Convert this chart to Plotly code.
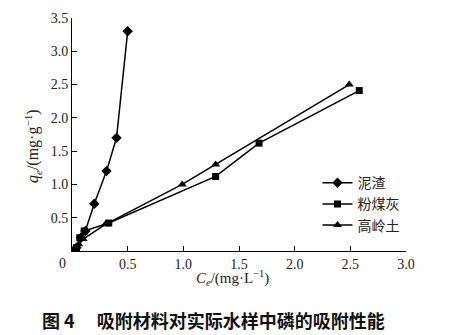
import plotly.graph_objects as go

# Data
names = ["泥渣", "粉煤灰", "高岭土"]
x_nizha = [0.04, 0.08, 0.12, 0.20, 0.31, 0.40, 0.50]
y_nizha = [0.05, 0.20, 0.30, 0.71, 1.20, 1.70, 3.30]
x_fmh = [0.04, 0.07, 0.11, 0.33, 1.29, 1.68, 2.58]
y_fmh = [0.05, 0.20, 0.30, 0.42, 1.12, 1.62, 2.41]
x_gtl = [0.02, 0.06, 0.10, 0.30, 0.99, 1.29, 2.49]
y_gtl = [0.03, 0.10, 0.18, 0.40, 1.00, 1.30, 2.50]
x_ticks = [0.5, 1.0, 1.5, 2.0, 2.5, 3.0]
y_ticks = [0.5, 1.0, 1.5, 2.0, 2.5, 3.0, 3.5]

serif = "Liberation Serif, Times New Roman, serif"
cjk = "Noto Sans CJK SC, sans-serif"

fig = go.Figure()
series = [
    (x_nizha, y_nizha, "diamond", 8),
    (x_fmh, y_fmh, "square", 7),
    (x_gtl, y_gtl, "triangle-up", 8),
]
for name, (xs, ys, sym, sz) in zip(names, series):
    fig.add_trace(go.Scatter(
        x=xs, y=ys, name=name, mode="lines+markers",
        line=dict(color="black", width=1.5),
        marker=dict(symbol=sym, size=sz, color="black"),
    ))

fig.update_layout(
    width=457, height=335,
    margin=dict(l=72, r=51, t=18, b=84),
    paper_bgcolor="white", plot_bgcolor="white",
    showlegend=True,
    legend=dict(x=0.735, y=0.36, xanchor="left", yanchor="top",
                font=dict(family=cjk, size=14, color="#222"),
                bgcolor="rgba(0,0,0,0)", tracegroupgap=0, itemwidth=30),
    font=dict(family=serif, size=14, color="#222"),
)
fig.update_xaxes(
    range=[0, 3.0], tickvals=x_ticks, tickformat=".1f",
    showline=True, linecolor="black", linewidth=1,
    ticks="inside", ticklen=5, tickcolor="black",
    showgrid=False, zeroline=False,
    tickfont=dict(family=serif, size=14, color="#222"),
)
fig.update_yaxes(
    range=[0, 3.5], tickvals=y_ticks, tickformat=".1f",
    showline=True, linecolor="black", linewidth=1,
    ticks="inside", ticklen=5, tickcolor="black",
    showgrid=False, zeroline=False,
    tickfont=dict(family=serif, size=14, color="#222"),
)

fig.add_annotation(x=0, y=0, xref="x", yref="y", text="0", showarrow=False,
                   xshift=-10, yshift=-12, font=dict(family=serif, size=14, color="#222"))
fig.add_annotation(x=0.482, y=-0.118, xref="paper", yref="paper",
                   xanchor="center", yanchor="middle",
                   text="<i>C<sub>e</sub></i>/(mg·L<sup>−1</sup>)", showarrow=False,
                   font=dict(family=serif, size=15, color="#222"))
fig.add_annotation(x=-0.117, y=0.45, xref="paper", yref="paper", textangle=-90,
                   xanchor="center", yanchor="middle",
                   text="<i>q<sub>e</sub></i>/(mg·g<sup>−1</sup>)", showarrow=False,
                   font=dict(family=serif, size=16, color="#222"))
fig.add_annotation(x=(40 - 72) / 334, y=(251 - 320) / 233, xref="paper", yref="paper",
                   xanchor="left", yanchor="middle", showarrow=False,
                   text="<b>图 4　 吸附材料对实际水样中磷的吸附性能</b>",
                   font=dict(family=cjk, size=18, color="#111"))

fig.write_html("out.html")
